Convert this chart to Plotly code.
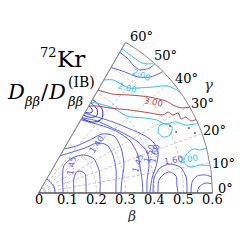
import math
import plotly.graph_objects as go

# ---------------- axes ----------------
beta_ticks = [0, 0.1, 0.2, 0.3, 0.4, 0.5, 0.6]
beta_ticklabels = ["0", "0.1", "0.2", "0.3", "0.4", "0.5", "0.6"]
gamma_ticks = [0, 10, 20, 30, 40, 50, 60]
gamma_ticklabels = ["0°", "10°", "20°", "30°", "40°", "50°", "60°"]

# ---------------- contour lines (beta, gamma[deg]) ----------------
o145_b = [0.057, 0.058, 0.056, 0.056, 0.056]
o145_g = [0, 20, 38, 50, 60]
arch145_b = [0.085, 0.094, 0.128, 0.167, 0.204, 0.224, 0.223, 0.216, 0.212]
arch145_g = [0, 28, 47, 46, 40, 32, 21, 10, 0]
arch150_b = [0.122, 0.133, 0.151, 0.165, 0.173, 0.168, 0.164]
arch150_g = [0, 23, 29, 27, 22, 13, 0]
c140_b = [0.148, 0.182, 0.223, 0.265, 0.288, 0.288, 0.279, 0.270, 0.267]
c140_g = [60, 50.7, 44.1, 40.5, 35, 27, 16.5, 8.1, 0]
c140b_b = [0.175, 0.207, 0.255, 0.299, 0.326, 0.324, 0.310, 0.291, 0.284]
c140b_g = [60, 51.4, 45.8, 42.9, 37.1, 28.6, 18.1, 8.8, 0]
fan145_b = [0.292, 0.299, 0.316, 0.342, 0.363, 0.367, 0.362, 0.360, 0.360]
fan145_g = [60, 55.1, 47.9, 38.7, 29.6, 20.9, 14.9, 7.2, 0]
fan150_b = [0.300, 0.320, 0.336, 0.361, 0.386, 0.400, 0.393, 0.377, 0.374]
fan150_g = [60, 50.9, 42.7, 34.3, 27.1, 20.7, 14.2, 6.8, 0]
fan160_b = [0.318, 0.331, 0.355, 0.385, 0.417, 0.434, 0.435, 0.416, 0.395, 0.384]
fan160_g = [60, 52.4, 43.6, 35, 28.2, 23.4, 18.5, 12.9, 7.5, 0]
k1_b = [0.322, 0.327, 0.335, 0.343, 0.348]
k1_g = [60, 57.5, 56.5, 57.5, 60]
k2_b = [0.310, 0.318, 0.335, 0.352, 0.360]
k2_g = [60, 55, 53, 55, 60]
k3_b = [0.297, 0.308, 0.335, 0.362, 0.373]
k3_g = [60, 52.5, 49.5, 52.5, 60]
a1_b = [0.412, 0.418, 0.438, 0.459, 0.478, 0.478, 0.481]
a1_g = [0, 6.2, 8.6, 9.1, 7.0, 3.3, 0]
a2_b = [0.395, 0.402, 0.428, 0.464, 0.496, 0.512, 0.512]
a2_g = [0, 7.4, 11.6, 12.4, 10.4, 6.2, 0]
e1_b = [0.526, 0.531, 0.550, 0.578, 0.600]
e1_g = [0, 4.1, 6.1, 6.2, 5.3]
e2_b = [0.547, 0.554, 0.575, 0.600]
e2_g = [0, 2.1, 3.4, 3.0]
t1_b = [0.560, 0.557, 0.549, 0.550, 0.578, 0.600]
t1_g = [60, 56.7, 53.6, 50.5, 48.3, 48]
t4_b = [0.500, 0.513, 0.527, 0.555, 0.589, 0.600]
t4_g = [60, 54.4, 49.4, 46.1, 44.6, 44.3]
ctop_b = [0.575, 0.571, 0.573, 0.588, 0.600]
ctop_g = [60, 55.2, 51.5, 49.2, 48.5]
c2_b = [0.450, 0.467, 0.478, 0.504, 0.538, 0.577, 0.595, 0.600]
c2_g = [60, 56.6, 49.2, 46, 42.8, 39.8, 36.6, 34.8]
c3_b = [0.362, 0.373, 0.390, 0.404, 0.444, 0.480, 0.497, 0.531, 0.557, 0.600]
c3_g = [60, 55.4, 48.8, 41, 35.7, 31.6, 28.6, 27.5, 24.9, 23.5]
c4_b = [0.480, 0.463, 0.471, 0.496, 0.514, 0.500, 0.480]
c4_g = [29.2, 27, 24.2, 23.8, 26.3, 28.4, 29.2]
c5_b = [0.600, 0.576, 0.554, 0.525, 0.513, 0.530, 0.565, 0.600]
c5_g = [15, 14.9, 15.9, 14.4, 12, 9.7, 9.8, 9]
r1_b = [0.410, 0.427, 0.462, 0.507, 0.542, 0.558, 0.578, 0.600]
r1_g = [60, 53, 47, 40.7, 35.8, 32.5, 30.5, 29.5]
r2_b = [0.347, 0.363, 0.383, 0.426, 0.473, 0.507, 0.527, 0.536, 0.555, 0.554, 0.572, 0.581, 0.600]
r2_g = [60, 55.6, 49.9, 42.2, 35.7, 32.1, 32, 30.1, 29.8, 27.4, 27.3, 25.3, 25]
rdot_b = [0.519, 0.565, 0.578, 0.509]
rdot_g = [23.9, 23.4, 21.0, 27.0]

label_text = ["1.45", "1.40", "1.45", "1.50", "1.60", "2.00", "1.60", "2.00", "2.00", "3.00"]
label_beta = [0.099, 0.263, 0.358, 0.404, 0.412, 0.566, 0.515, 0.570, 0.476, 0.540]
label_gamma = [31.5, 40, 16.8, 19.4, 13, 8.8, 9.2, 51.3, 49.6, 35.5]
label_angle = [-80, -55, -72, -72, -75, -10, -10, 22, 15, 10]

BLUE = "#5a5ff0"
DBLUE = "#2b2bd6"
CYAN = "#38bdf8"
RED = "#b04848"
label_color = [BLUE, BLUE, BLUE, BLUE, BLUE, CYAN, BLUE, CYAN, CYAN, RED]

lines = [
    (o145_b, o145_g, BLUE), (arch145_b, arch145_g, BLUE), (arch150_b, arch150_g, BLUE),
    (c140_b, c140_g, BLUE), (c140b_b, c140b_g, BLUE), (fan145_b, fan145_g, BLUE),
    (fan150_b, fan150_g, BLUE), (fan160_b, fan160_g, BLUE),
    (k1_b, k1_g, DBLUE), (k2_b, k2_g, DBLUE), (k3_b, k3_g, DBLUE),
    (a1_b, a1_g, BLUE), (a2_b, a2_g, BLUE), (e1_b, e1_g, BLUE), (e2_b, e2_g, BLUE),
    (t1_b, t1_g, BLUE), (t4_b, t4_g, BLUE),
    (ctop_b, ctop_g, CYAN), (c2_b, c2_g, CYAN), (c3_b, c3_g, CYAN),
    (c4_b, c4_g, CYAN), (c5_b, c5_g, CYAN),
    (r1_b, r1_g, RED), (r2_b, r2_g, RED),
]

W, H = 240, 246
DOM_X = [38.5 / W, 212.5 / W]
DOM_Y = [1 - 193 / H, 1 - 42.3 / H]
R_MAX = beta_ticks[-1]
# angular tick labels sit just outside the rim, slightly clockwise of their tick
GAMMA_LABEL_R = 0.645
GAMMA_LABEL_SHIFT = [-1.5, 0.8, 0.5, 1.3, 2.3, 2.7, 3.4]


def to_paper(b, g):
    rpx = (DOM_X[1] - DOM_X[0]) * W
    x = DOM_X[0] * W + b / R_MAX * rpx * math.cos(math.radians(g))
    y = DOM_Y[0] * H + b / R_MAX * rpx * math.sin(math.radians(g))
    return x / W, y / H


fig = go.Figure()
fig.add_trace(go.Scatterpolar(r=[0, R_MAX], theta=[gamma_ticks[-1]] * 2, mode="lines",
                              line=dict(color="#888888", width=1), hoverinfo="skip"))
for b, g, col in lines:
    fig.add_trace(go.Scatterpolar(r=b, theta=g, mode="lines",
                                  line=dict(color=col, width=1, shape="spline", smoothing=0.8),
                                  hoverinfo="skip"))
fig.add_trace(go.Scatterpolar(r=rdot_b, theta=rdot_g, mode="markers",
                              marker=dict(color=RED, size=2), hoverinfo="skip"))

serif = "DejaVu Serif"
ann = []
for t, b, g, a, c in zip(label_text, label_beta, label_gamma, label_angle, label_color):
    x, y = to_paper(b, g)
    ann.append(dict(x=x, y=y, xref="paper", yref="paper", text=t, textangle=a, showarrow=False,
                    font=dict(family="DejaVu Sans", size=8.5, color=c)))

# radial (beta) tick labels just under the 0-degree edge
for v, t in zip(beta_ticks, beta_ticklabels):
    x, y = to_paper(v, 0)
    ann.append(dict(x=x, y=y, xref="paper", yref="paper", text=t, showarrow=False,
                    xanchor="center", yanchor="middle", yshift=-6, height=11, borderpad=0,
                    font=dict(family=serif, size=13, color="black")))

# angular (gamma) tick labels
for v, t, s in zip(gamma_ticks, gamma_ticklabels, GAMMA_LABEL_SHIFT):
    x, y = to_paper(GAMMA_LABEL_R, v - s)
    ann.append(dict(x=x, y=y, xref="paper", yref="paper", text=t, showarrow=False,
                    xanchor="center", yanchor="middle",
                    font=dict(family=serif, size=13, color="black")))

title_parts = [
    ("72", 38, 52, 13),
    ("Kr", 55, 59, 23),
    ("<i>D</i>", 5, 92, 21),
    ("<i>ββ</i>", 22, 101, 13),
    ("/", 39, 92, 21),
    ("<i>D</i>", 46, 92, 21),
    ("<i>ββ</i>", 65, 101, 13),
    ("(IB)", 66, 82, 14),
]
for t, px, py, s in title_parts:
    ann.append(dict(x=px / W, y=1 - py / H, xref="paper", yref="paper", text=t, showarrow=False,
                    xanchor="left", yanchor="middle", font=dict(family=serif, size=s, color="black")))

bx, _ = to_paper(0.319, 0)
ann.append(dict(x=bx, y=1 - 223 / H, xref="paper", yref="paper", text="<i>β</i>", showarrow=False,
                height=13, borderpad=0,
                font=dict(family=serif, size=14, color="#333333")))
gx, gy = to_paper(0.715, 31.5)
ann.append(dict(x=gx, y=gy, xref="paper", yref="paper", text="<i>γ</i>", showarrow=False,
                font=dict(family=serif, size=15, color="#333333")))

fig.update_layout(
    width=W, height=H, margin=dict(l=0, r=0, t=0, b=0), autosize=False,
    paper_bgcolor="white", showlegend=False,
    polar=dict(
        sector=[gamma_ticks[0], gamma_ticks[-1]],
        domain=dict(x=DOM_X, y=DOM_Y),
        bgcolor="white",
        radialaxis=dict(range=[0, R_MAX], tickvals=beta_ticks, showticklabels=False,
                        angle=0, showline=True, linecolor="#444444", linewidth=1,
                        gridcolor="#c8c8c8", griddash="3px,2px", gridwidth=0.8, ticks=""),
        angularaxis=dict(tickvals=gamma_ticks, showticklabels=False, direction="counterclockwise",
                         rotation=0, showline=True, linecolor="#888888", linewidth=1,
                         gridcolor="#c8c8c8", griddash="3px,2px", gridwidth=0.8, ticks=""),
    ),
    annotations=ann,
)
fig.write_html("out.html", config={"displayModeBar": False},
               post_script="document.body.style.margin='0px';")
